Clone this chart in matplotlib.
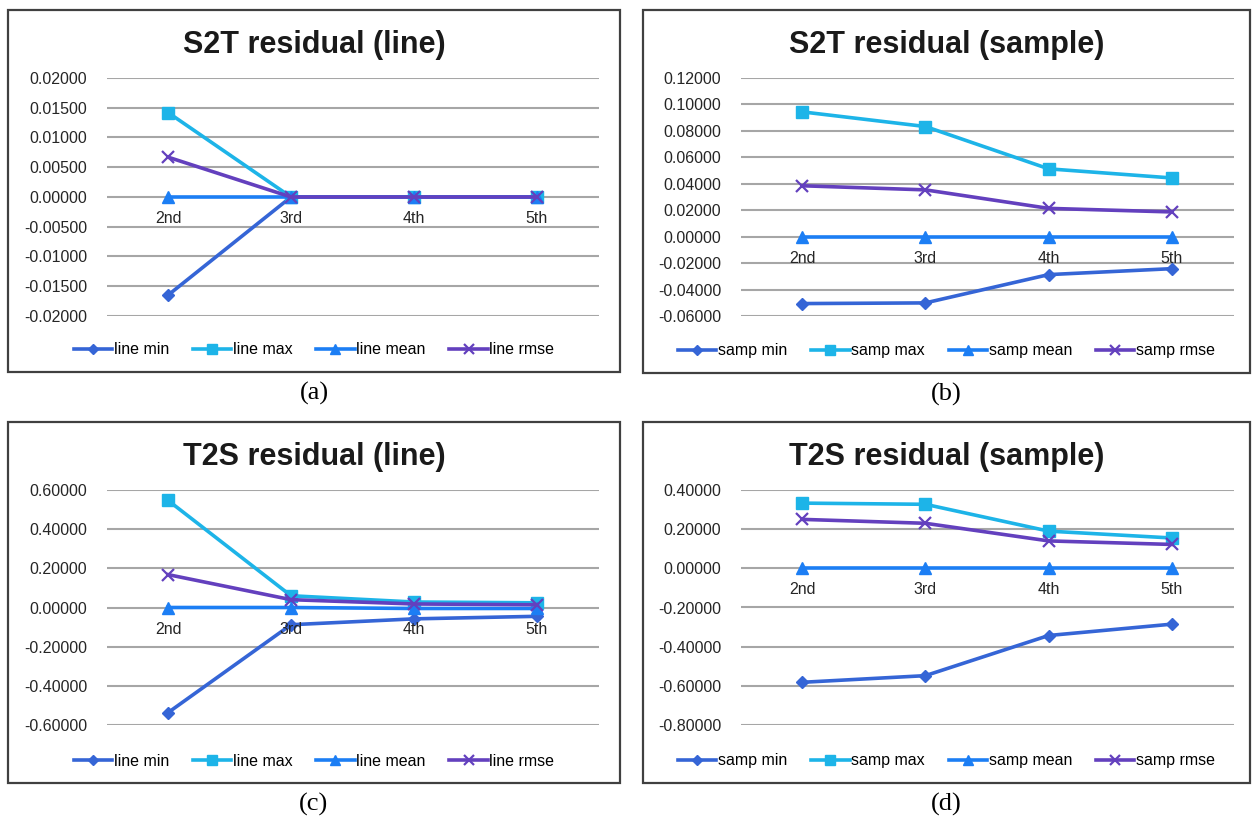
import matplotlib
matplotlib.use("Agg")
import matplotlib.pyplot as plt
from matplotlib.patches import Rectangle

W, H = 1254, 816

# Data
orders = ["2nd", "3rd", "4th", "5th"]

s2t_line_min = [-0.0165, 0.0, 0.0, 0.0]
s2t_line_max = [0.0142, 0.0, 0.0, 0.0]
s2t_line_mean = [0.0, 0.0, 0.0, 0.0]
s2t_line_rmse = [0.0067, 0.0, 0.0, 0.0]

s2t_samp_min = [-0.0506, -0.0501, -0.0287, -0.0242]
s2t_samp_max = [0.0944, 0.0833, 0.0513, 0.0444]
s2t_samp_mean = [0.0, 0.0, 0.0, 0.0]
s2t_samp_rmse = [0.0385, 0.0354, 0.0214, 0.0187]

t2s_line_min = [-0.537, -0.088, -0.058, -0.045]
t2s_line_max = [0.547, 0.060, 0.028, 0.024]
t2s_line_mean = [0.0, 0.0, -0.005, -0.005]
t2s_line_rmse = [0.168, 0.040, 0.018, 0.014]

t2s_samp_min = [-0.582, -0.548, -0.343, -0.285]
t2s_samp_max = [0.333, 0.327, 0.190, 0.155]
t2s_samp_mean = [0.0, 0.0, 0.0, 0.0]
t2s_samp_rmse = [0.250, 0.230, 0.140, 0.122]

line_names = ["line min", "line max", "line mean", "line rmse"]
samp_names = ["samp min", "samp max", "samp mean", "samp rmse"]

# Styles
colors = ["#3565D6", "#1DB4E8", "#1C7EF4", "#6340BE"]
markers = ["D", "s", "^", "x"]
msizes = [6, 9, 9, 9]

plt.rcParams["font.family"] = ["Liberation Sans", "DejaVu Sans"]

fig = plt.figure(figsize=(W / 100, H / 100), dpi=100)


def fx(px):
    return px / W


def fy(py):
    return 1 - py / H


def panel(box, axpx, title, ylim, step, series, names, tag):
    bx0, by0, bx1, by1 = box
    fig.patches.append(Rectangle((fx(bx0), fy(by1)), fx(bx1 - bx0), (by1 - by0) / H,
                                 transform=fig.transFigure, fill=False,
                                 edgecolor="#404040", linewidth=1.6))
    ax0, ay0, ax1, ay1 = axpx
    ax = fig.add_axes([fx(ax0), fy(ay1), fx(ax1 - ax0), (ay1 - ay0) / H])
    for s in ax.spines.values():
        s.set_visible(False)
    n = int(round((ylim[1] - ylim[0]) / step))
    ticks = [ylim[0] + i * step for i in range(n + 1)]
    ax.set_yticks(ticks)
    ax.set_yticklabels([f"{t:.5f}" for t in ticks], fontsize=11.5, color="#262626")
    ax.set_ylim(ylim[0], ylim[1])
    ax.set_xlim(-0.5, len(orders) - 0.5)
    ax.set_xticks([])
    ax.tick_params(axis="y", length=0, pad=14)
    ax.grid(axis="y", color="#A6A6A6", linewidth=1.5)
    ax.set_axisbelow(True)
    x = list(range(len(orders)))
    handles = []
    for vals, name, c, m, ms in zip(series, names, colors, markers, msizes):
        h, = ax.plot(x, vals, color=c, linewidth=2.6, marker=m, markersize=ms,
                     markeredgewidth=1.6 if m == "x" else 1, label=name, clip_on=False)
        handles.append(h)
    for i, o in enumerate(orders):
        ax.annotate(o, (i, 0), textcoords="offset points", xytext=(0, -15.5),
                    ha="center", va="center", fontsize=11.5, color="#262626")
    cx = (bx0 + bx1) / 2
    fig.text(fx(cx), fy(by0 + 35), title, ha="center", va="center",
             fontsize=22, fontweight="bold", color="#1a1a1a")
    fig.legend(handles=handles, loc="center", bbox_to_anchor=(fx(cx), fy(by1 - 22)),
               ncol=4, frameon=False, fontsize=11.5, handlelength=2.4,
               handletextpad=0.1, columnspacing=1.5, markerscale=0.8)
    fig.text(fx(cx), fy(by1 + 21), tag, ha="center", va="center",
             fontsize=19, family=["Liberation Serif", "DejaVu Serif"])


panel((8, 10, 620, 372), (106.5, 78, 598.5, 316), "S2T residual (line)",
      (-0.02, 0.02), 0.005,
      [s2t_line_min, s2t_line_max, s2t_line_mean, s2t_line_rmse], line_names, "(a)")
panel((643, 10, 1250, 373), (740.5, 78, 1233.5, 316), "S2T residual (sample)",
      (-0.06, 0.12), 0.02,
      [s2t_samp_min, s2t_samp_max, s2t_samp_mean, s2t_samp_rmse], samp_names, "(b)")
panel((8, 422, 620, 783), (106.5, 490, 598.5, 725), "T2S residual (line)",
      (-0.6, 0.6), 0.2,
      [t2s_line_min, t2s_line_max, t2s_line_mean, t2s_line_rmse], line_names, "(c)")
panel((643, 422, 1250, 783), (740.5, 490, 1233.5, 725), "T2S residual (sample)",
      (-0.8, 0.4), 0.2,
      [t2s_samp_min, t2s_samp_max, t2s_samp_mean, t2s_samp_rmse], samp_names, "(d)")

fig.savefig("out.png", dpi=100)
